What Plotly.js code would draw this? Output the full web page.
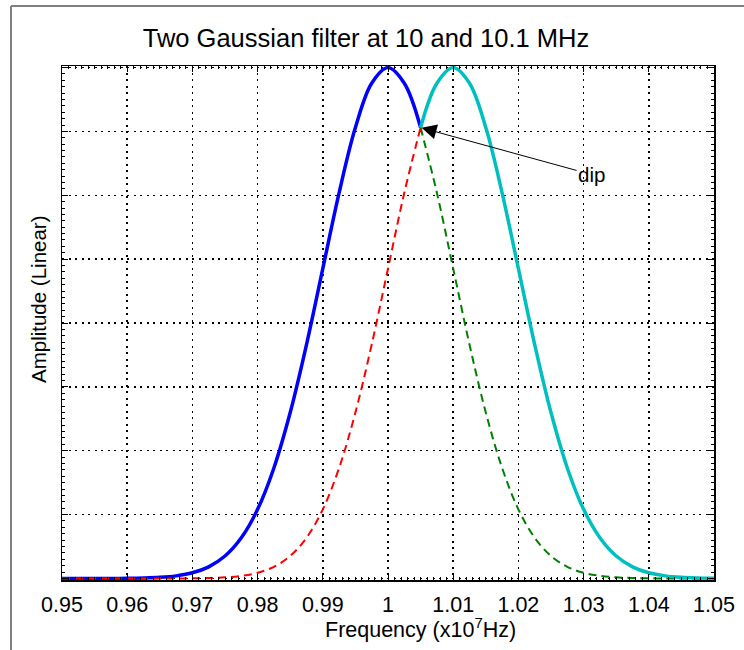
<!DOCTYPE html>
<html>
<head>
<meta charset="utf-8">
<script src="https://cdn.plot.ly/plotly-3.0.1.min.js"></script>
<style>
  html, body { margin: 0; padding: 0; background: #ffffff; }
  #chart { width: 744px; height: 650px; }
</style>
</head>
<body>
<div id="chart"></div>
<script>
// Frequency samples (x10^7 Hz)
const freqLeft  = [0.95, 0.9525, 0.955, 0.9575, 0.96, 0.9625, 0.965, 0.9675, 0.97, 0.9725, 0.975, 0.9775,
                   0.98, 0.9825, 0.985, 0.9875, 0.99, 0.9925, 0.995, 0.9975, 1.0, 1.0025, 1.005];
const freqRight = [1.005, 1.0075, 1.01, 1.0125, 1.015, 1.0175, 1.02, 1.0225, 1.025, 1.0275, 1.03, 1.0325,
                   1.035, 1.0375, 1.04, 1.0425, 1.045, 1.0475, 1.05];

// Filter at 10 MHz, solid part (left of the dip)
const filter10Solid = [0, 0, 0, 0.0001, 0.0003, 0.0009, 0.0022, 0.0051, 0.0111, 0.0228, 0.0439, 0.0796,
                       0.1353, 0.2163, 0.3247, 0.4578, 0.6065, 0.7548, 0.8825, 0.9692, 1.0, 0.9692, 0.8825];
// Filter at 10.1 MHz, dashed part (left of the dip)
const filter101Dashed = [0, 0, 0, 0, 0, 0, 0, 0.0001, 0.0003, 0.0009, 0.0022, 0.0051,
                         0.0111, 0.0228, 0.0439, 0.0796, 0.1353, 0.2163, 0.3247, 0.4578, 0.6065, 0.7548, 0.8825];
// Filter at 10.1 MHz, solid part (right of the dip)
const filter101Solid = [0.8825, 0.9692, 1.0, 0.9692, 0.8825, 0.7548, 0.6065, 0.4578, 0.3247, 0.2163, 0.1353, 0.0796,
                        0.0439, 0.0228, 0.0111, 0.0051, 0.0022, 0.0009, 0.0003];
// Filter at 10 MHz, dashed part (right of the dip)
const filter10Dashed = [0.8825, 0.7548, 0.6065, 0.4578, 0.3247, 0.2163, 0.1353, 0.0796, 0.0439, 0.0228, 0.0111, 0.0051,
                        0.0022, 0.0009, 0.0003, 0.0001, 0, 0, 0];

const xTickVals   = [0.95, 0.96, 0.97, 0.98, 0.99, 1.0, 1.01, 1.02, 1.03, 1.04, 1.05];
const xTickLabels = ['0.95', '0.96', '0.97', '0.98', '0.99', '1', '1.01', '1.02', '1.03', '1.04', '1.05'];
const dipPoint = {x: 1.005, y: 0.8825, label: 'dip'};

const FONT = '"Liberation Sans", Arial, sans-serif';

const traces = [
  {x: freqRight, y: filter10Dashed, mode: 'lines', line: {color: '#008000', width: 2, dash: '8px,5px', shape: 'spline'}, hoverinfo: 'skip'},
  {x: freqLeft, y: filter10Solid, mode: 'lines', line: {color: '#0000ff', width: 3.5, shape: 'spline'}, hoverinfo: 'skip'},
  {x: freqLeft, y: filter101Dashed, mode: 'lines', line: {color: '#ff0000', width: 2, dash: '8px,5px', shape: 'spline'}, hoverinfo: 'skip'},
  {x: freqRight, y: filter101Solid, mode: 'lines', line: {color: '#00bfbf', width: 3.5, shape: 'spline'}, hoverinfo: 'skip'}
];

const axisCommon = {
  showline: true, linecolor: '#000000', linewidth: 1.5, mirror: 'allticks',
  ticks: 'inside', ticklen: 6, tickcolor: '#000000', tickwidth: 1,
  showgrid: true, gridcolor: '#000000', gridwidth: 1.5, griddash: '2px,4.5px',
  zeroline: false, fixedrange: true
};

const layout = {
  width: 744, height: 650,
  margin: {l: 62, r: 30, t: 66, b: 70},
  paper_bgcolor: '#ffffff', plot_bgcolor: '#ffffff',
  showlegend: false,
  font: {family: FONT, color: '#000000', size: 20},
  title: {
    text: 'Two Gaussian filter at 10 and 10.1 MHz',
    font: {family: FONT, size: 25.5, color: '#000000'},
    x: 366 / 744, xref: 'container', xanchor: 'center',
    y: 1 - 38 / 650, yref: 'container', yanchor: 'middle'
  },
  xaxis: Object.assign({}, axisCommon, {
    range: [0.95, 1.05],
    tickmode: 'array', tickvals: xTickVals, ticktext: xTickLabels,
    tickfont: {family: FONT, size: 21.5, color: '#000000'},
    ticklabelstandoff: 5,
    minor: {dtick: 0.001, ticks: 'inside', ticklen: 3, tickcolor: '#000000', showgrid: false}
  }),
  yaxis: Object.assign({}, axisCommon, {
    range: [-0.003, 1.003],
    tick0: 0, dtick: 0.125,
    showticklabels: false,
    minor: {dtick: 0.0125, ticks: 'inside', ticklen: 3, tickcolor: '#000000', showgrid: false}
  }),
  annotations: [
    {
      x: dipPoint.x, y: dipPoint.y, xref: 'x', yref: 'y',
      text: dipPoint.label, showarrow: true,
      ax: 171, ay: 47, axref: 'pixel', ayref: 'pixel',
      arrowhead: 2, arrowsize: 3, arrowwidth: 1, arrowcolor: '#000000', standoff: 1,
      font: {family: FONT, size: 20.5, color: '#000000'}
    },
    {
      text: 'Frequency (x10<sup>7</sup>Hz)', showarrow: false,
      xref: 'paper', yref: 'paper', x: (420 - 62) / 652, y: -(628 - 580) / 514,
      xanchor: 'center', yanchor: 'middle',
      font: {family: FONT, size: 21.5, color: '#000000'}
    },
    {
      text: 'Amplitude (Linear)', showarrow: false, textangle: -90,
      xref: 'paper', yref: 'paper', x: (38 - 62) / 652, y: (580 - 299) / 514,
      xanchor: 'center', yanchor: 'middle',
      font: {family: FONT, size: 20.5, color: '#000000'}
    }
  ],
  shapes: [
    {type: 'line', xref: 'paper', yref: 'paper', x0: (11 - 62) / 652, x1: (11 - 62) / 652, y0: -0.2, y1: (580 - 6) / 514,
     line: {color: '#808080', width: 2}},
    {type: 'line', xref: 'paper', yref: 'paper', x0: (11 - 62) / 652, x1: 1.2, y0: (580 - 6) / 514, y1: (580 - 6) / 514,
     line: {color: '#808080', width: 2}}
  ]
};

Plotly.newPlot('chart', traces, layout, {displayModeBar: false, staticPlot: true});
</script>
</body>
</html>
